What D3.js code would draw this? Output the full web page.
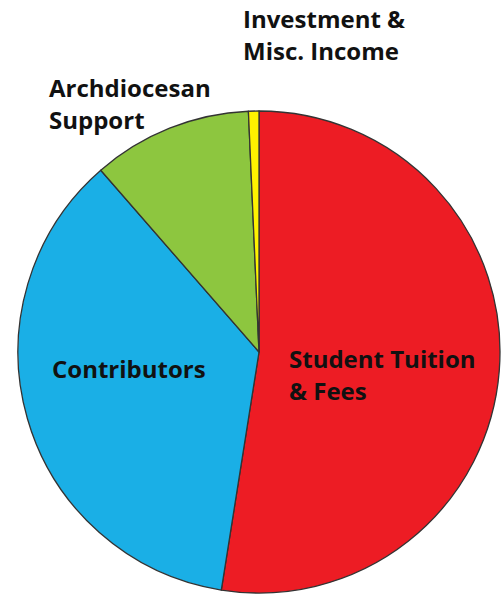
<!DOCTYPE html>
<html>
<head>
<meta charset="utf-8">
<script src="https://cdn.jsdelivr.net/npm/d3@7"></script>
<style>
  body { margin: 0; background: #fff; }
  text { font-family: "Open Sans", sans-serif; font-weight: bold; font-size: 24px; fill: #111; }
</style>
</head>
<body>
<div id="chart"></div>
<script>
// Revenue shares (percent), clockwise from 12 o'clock
var categories = ["Student Tuition & Fees", "Contributors", "Archdiocesan Support", "Investment & Misc. Income"];
var shares = [52.5, 36.1, 10.7, 0.7];
var colours = ["#ed1c24", "#1aafe6", "#8dc63f", "#fff200"];

// Label lines for each category
var labelLines = [
  ["Student Tuition", "& Fees"],
  ["Contributors"],
  ["Archdiocesan", "Support"],
  ["Investment &", "Misc. Income"]
];

var width = 502;
var height = 598;
var cx = 259, cy = 352, radius = 241;

var svg = d3.select("#chart").append("svg")
  .attr("width", width)
  .attr("height", height);

var pie = d3.pie().sort(null).value(function(d) { return d; });
var arc = d3.arc().innerRadius(0).outerRadius(radius);

var g = svg.append("g").attr("transform", "translate(" + cx + "," + cy + ")");

// Draw slices
g.selectAll("path.slice")
  .data(pie(shares))
  .enter().append("path")
  .attr("class", "slice")
  .attr("d", arc)
  .style("fill", function(d, i) { return colours[i]; })
  .style("stroke", "#333")
  .style("stroke-width", 1.3)
  .style("stroke-linejoin", "round");

// Label anchor points (left x, first baseline y), in page pixels
var labelPos = [
  [289, 368],
  [52, 378],
  [49, 97],
  [243, 28]
];
var lineGap = 32;

labelLines.forEach(function(lines, i) {
  var t = svg.append("text")
    .attr("x", labelPos[i][0])
    .attr("y", labelPos[i][1]);
  lines.forEach(function(line, j) {
    t.append("tspan")
      .attr("x", labelPos[i][0])
      .attr("y", labelPos[i][1] + j * lineGap)
      .text(line);
  });
});
</script>
</body>
</html>
